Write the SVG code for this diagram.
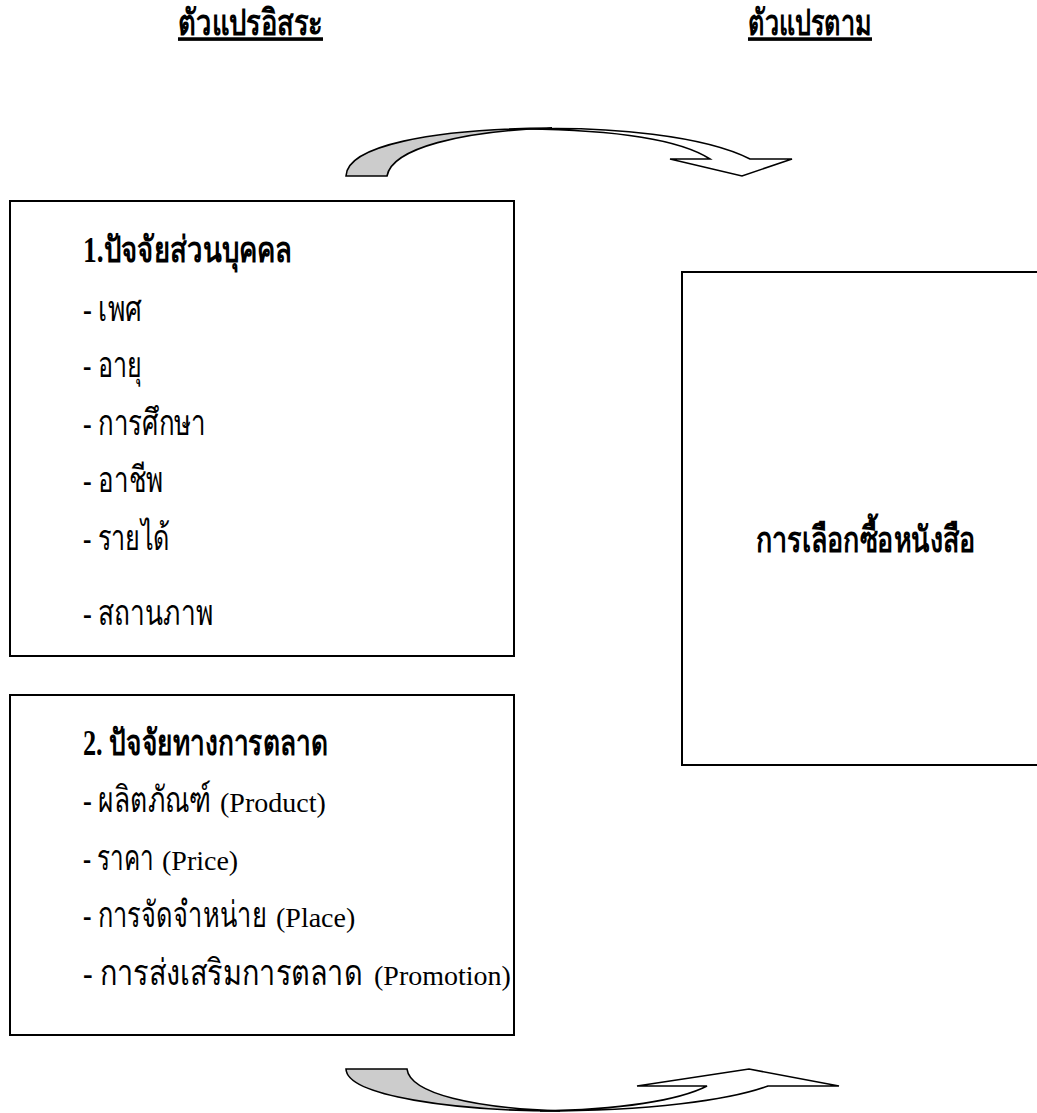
<svg xmlns="http://www.w3.org/2000/svg" width="1037" height="1113" viewBox="0 0 1037 1113">
<style>
.t{font-family:"Liberation Serif","DejaVu Serif",serif;font-size:36px;fill:#000}
.b{font-weight:bold}
.h{font-weight:bold;text-decoration:underline}
.l{font-family:"Liberation Serif","Times New Roman",serif;font-size:28px;fill:#000}
.box{fill:#fff;stroke:#000;stroke-width:2}
.arw{stroke:#000;stroke-width:1.6;stroke-linejoin:miter}
</style>
<rect width="1037" height="1113" fill="#fff"/>
<g id="header-independent"><g transform="scale(0.74,1)"><text class="t h" x="240.54" y="35" textLength="195.95" lengthAdjust="spacingAndGlyphs">ตัวแปรอิสระ</text></g></g>
<g id="header-dependent"><g transform="scale(0.74,1)"><text class="t h" x="1010.81" y="35" textLength="167.57" lengthAdjust="spacingAndGlyphs">ตัวแปรตาม</text></g></g>
<g id="connectors">
<path class="arw" fill="#ccc" d="M346,176 C347,146 430,129 552,128 C462,131 392,148 387,176 Z"/>
<path class="arw" fill="#fff" d="M525,129 C610,126 705,136 750,159 L792,159 L742,176 L670,159 L710,159 C682,141 625,130 525,129 Z"/>
<path class="arw" fill="#ccc" d="M346,1069 L407,1069 C410,1094 475,1108 560,1111 C455,1111 347,1096 346,1069 Z"/>
<path class="arw" fill="#fff" d="M540,1111 C650,1111 730,1100 768,1086 L839,1086 L749,1069 L637,1086 L707,1086 C680,1100 620,1110 540,1111 Z"/>
</g>
<g id="node-personal">
<rect class="box" x="10" y="201" width="504" height="455"/>
<g transform="scale(0.74,1)">
<text class="t b" x="112.16" y="262" textLength="282.43" lengthAdjust="spacingAndGlyphs">1.ปัจจัยส่วนบุคคล</text>
<text class="t" x="112.16" y="321" textLength="79.73" lengthAdjust="spacingAndGlyphs">- เพศ</text>
<text class="t" x="112.16" y="377" textLength="79.73" lengthAdjust="spacingAndGlyphs">- อายุ</text>
<text class="t" x="112.16" y="435" textLength="166.22" lengthAdjust="spacingAndGlyphs">- การศึกษา</text>
<text class="t" x="112.16" y="492" textLength="108.11" lengthAdjust="spacingAndGlyphs">- อาชีพ</text>
<text class="t" x="112.16" y="550" textLength="117.57" lengthAdjust="spacingAndGlyphs">- รายได้</text>
<text class="t" x="112.16" y="625" textLength="175.68" lengthAdjust="spacingAndGlyphs">- สถานภาพ</text>
</g>
</g>
<g id="node-marketing">
<rect class="box" x="10" y="695" width="504" height="340"/>
<g transform="scale(0.74,1)">
<text class="t b" x="112.16" y="755" textLength="331.08" lengthAdjust="spacingAndGlyphs">2. ปัจจัยทางการตลาด</text>
<text class="t" x="112.16" y="812" textLength="172.97" lengthAdjust="spacingAndGlyphs">- ผลิตภัณฑ์</text>
<text class="t" x="112.16" y="870" textLength="95.95" lengthAdjust="spacingAndGlyphs">- ราคา</text>
<text class="t" x="112.16" y="927" textLength="248.65" lengthAdjust="spacingAndGlyphs">- การจัดจำหน่าย</text>
<text class="t" x="112.16" y="985" textLength="378.38" lengthAdjust="spacingAndGlyphs">- การส่งเสริมการตลาด</text>
</g>
<text class="l" x="220" y="812">(Product)</text>
<text class="l" x="162" y="870">(Price)</text>
<text class="l" x="276" y="927">(Place)</text>
<text class="l" x="374" y="985">(Promotion)</text>
</g>
<g id="node-decision">
<rect class="box" x="682" y="272" width="370" height="493"/>
<g transform="scale(0.74,1)">
<text class="t b" x="1021.62" y="552" textLength="295.95" lengthAdjust="spacingAndGlyphs">การเลือกซื้อหนังสือ</text>
</g>
</g>
</svg>
